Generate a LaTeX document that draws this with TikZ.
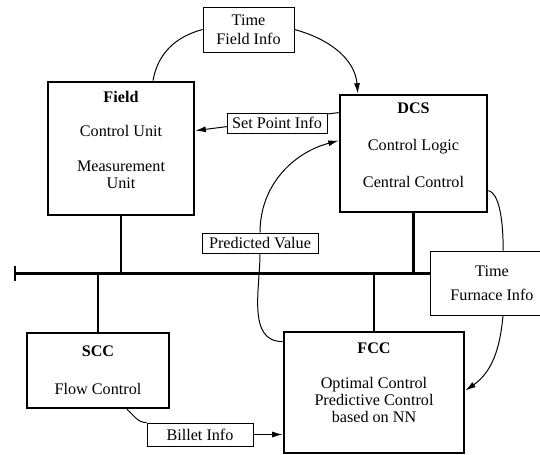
\documentclass[tikz,border=0pt]{standalone}
\usepackage{fontspec}
\setmainfont{Liberation Serif}
\usetikzlibrary{arrows.meta,positioning,backgrounds}

\begin{document}
\begin{tikzpicture}[
  x=1cm,
  y=1cm,
  unitbox/.style={draw=black, line width=2pt, fill=white, inner sep=0pt, align=center, font=\fontsize{11.5}{12.2}\selectfont},
  tag/.style={draw=black, line width=0.6pt, fill=white, inner sep=0pt, align=center, font=\fontsize{11.5}{12.2}\selectfont},
  link/.style={line width=0.7pt, draw=black},
  arrow/.style={link, -{Latex[length=2.6mm,width=1.5mm]}},
  busline/.style={line width=2.1pt, draw=black}
]
  \useasboundingbox (0,0) rectangle (13.5,11.375);

  \node[unitbox, minimum width=3.65cm, minimum height=3.325cm] (field) at (3.025,7.6625)
    {\textbf{Field}\\[0.44cm]Control Unit\\[0.44cm]Measurement\\Unit\\\mbox{}};
  \node[unitbox, minimum width=3.675cm, minimum height=2.925cm] (dcs) at (10.3375,7.5375)
    {\textbf{DCS}\\[0.5cm]Control Logic\\[0.5cm]Central Control\\\mbox{}};
  \node[unitbox, minimum width=3.55cm, minimum height=1.875cm] (scc) at (2.45,2.1125)
    {\textbf{SCC}\\[0.52cm]Flow Control};
  \node[unitbox, minimum width=4.5cm, minimum height=3.025cm] (fcc) at (9.35,1.5625)
    {\textbf{FCC}\\[0.45cm]Optimal Control\\Predictive Control\\based on NN\\[0.07cm]\mbox{}};

  \node[tag, minimum width=2.275cm, minimum height=1.125cm] (timefield) at (6.2125,10.6375) {Time\\[0.05cm]Field Info};
  \node[tag, minimum width=2.5cm, minimum height=0.5cm] (setpoint) at (6.925,8.3) {Set Point Info};
  \node[tag, minimum width=2.9cm, minimum height=0.5cm] (predicted) at (6.5,5.3) {Predicted Value};
  \node[tag, minimum width=3.1cm, minimum height=1.6cm] (timefurnace) at (12.3,4.3) {Time\\[0.17cm]Furnace Info};
  \node[tag, minimum width=2.65cm, minimum height=0.575cm] (billet) at (5.0,0.5125) {Billet Info};

  % bus
  \coordinate (busend) at (0.375,4.5375);
  \draw[busline] (busend) -- (busend -| timefurnace.west);
  \draw[busline] ([yshift=-0.19cm]busend) -- ([yshift=0.19cm]busend);
  \draw[busline] (field.south) -- (field.south |- busend);
  \draw[busline] (dcs.south) -- (dcs.south |- busend);
  \draw[busline] (scc.north) -- (scc.north |- busend);
  \draw[busline] (fcc.north) -- (fcc.north |- busend);

  % information flows
  \draw[link] ([xshift=0.8cm]field.north) to[out=80,in=195] (timefield.west);
  \draw[arrow] (timefield.east) to[out=-15,in=95] ([xshift=-1.39cm]dcs.north);
  \begin{scope}[on background layer]
    \draw[arrow] ([yshift=-0.475cm]dcs.north west) -- ([yshift=-1.25cm]field.north east);
  \end{scope}
  \draw[link] ([yshift=-0.275cm]fcc.north west) to[out=180,in=-90] (predicted.south);
  \draw[arrow] (predicted.north) to[out=90,in=195] ([yshift=-1.175cm]dcs.north west);
  \draw[link] ([yshift=-2.425cm]dcs.north east) to[out=-15,in=90,looseness=0.6] ([xshift=0.28cm]timefurnace.north);
  \draw[arrow] ([xshift=0.275cm]timefurnace.south) to[out=-95,in=35] ([yshift=-1.5cm]fcc.north east);
  \draw[link] ([xshift=0.725cm]scc.south) to[out=-40,in=180] (billet.north west);
  \draw[arrow] (billet.east) -- (billet.east -| fcc.west);
\end{tikzpicture}
\end{document}
